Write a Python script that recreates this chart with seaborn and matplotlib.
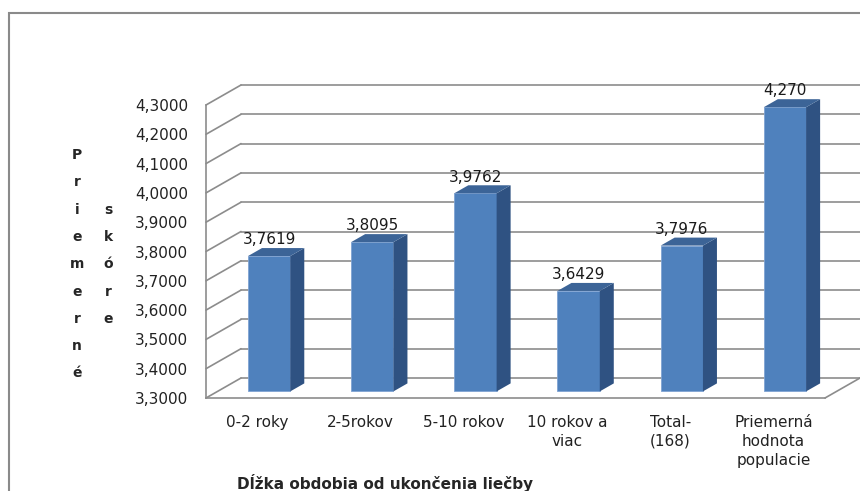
#!/usr/bin/env python3
import matplotlib
matplotlib.use('Agg')
import matplotlib.pyplot as plt
import matplotlib.patches as patches
import seaborn as sns

# data
categories = ['0-2 roky', '2-5rokov', '5-10 rokov', '10 rokov a\nviac',
              'Total-\n(168)', 'Priemerná\nhodnota\npopulacie']
values = [3.7619, 3.8095, 3.9762, 3.6429, 3.7976, 4.270]
value_labels = ['3,7619', '3,8095', '3,9762', '3,6429', '3,7976', '4,270']
yticks = [3.3, 3.4, 3.5, 3.6, 3.7, 3.8, 3.9, 4.0, 4.1, 4.2, 4.3]
ytick_labels = ['3,3000', '3,4000', '3,5000', '3,6000', '3,7000', '3,8000',
                '3,9000', '4,0000', '4,1000', '4,2000', '4,3000']
ylabel_col1 = list('Priemerné')
ylabel_col2 = list('skóre')
xlabel = 'Dĺžka obdobia od ukončenia liečby'

sns.set_style('white')
plt.rcParams['font.family'] = ['DejaVu Sans']

grid_col = '#8c8c8c'
front_col = '#4F81BD'
side_col = '#2F5282'
top_col = '#3C6497'

fig = plt.figure(figsize=(8.6, 4.91), dpi=100)
ax_w, ax_h = 619, 293
ax = fig.add_axes([206 / 860, 93 / 491, ax_w / 860, ax_h / 491])

sns.barplot(x=categories, y=values, color=front_col, saturation=1,
            width=0.41, ax=ax, zorder=3, edgecolor='#7fa3d3', linewidth=0.6)
ax.set_xlim(-0.5, 5.5)
ax.set_ylim(3.3, 4.3)

# depth of the fake 3d box in data units (35 px right, 20 px up)
ddx = 35 / (ax_w / 6)
ddy = 20 / ax_h
f0, f1 = 0.33, 0.73  # front / back of the bars inside the depth

# back wall + left wall grid
for v in yticks:
    ax.plot([-0.5 + ddx, 5.5 + ddx], [v + ddy, v + ddy], color=grid_col,
            lw=1.2, clip_on=False, zorder=1)
    ax.plot([-0.5, -0.5 + ddx], [v, v + ddy], color=grid_col,
            lw=1.2, clip_on=False, zorder=1)
ax.plot([5.5, 5.5 + ddx], [3.3, 3.3 + ddy], color=grid_col, lw=1.2,
        clip_on=False, zorder=1)

# turn the flat bars into boxes
for i, p in enumerate(ax.patches):
    x0 = p.get_x() + f0 * ddx
    w = p.get_width()
    y0 = 3.3 + f0 * ddy
    top = values[i] + f0 * ddy
    p.set_x(x0)
    p.set_y(y0)
    p.set_height(top - y0)
    p.set_clip_on(False)
    x1 = x0 + w
    d = f1 - f0
    ax.fill([x1, x1 + d * ddx, x1 + d * ddx, x1],
            [y0, y0 + d * ddy, top + d * ddy, top],
            color=side_col, clip_on=False, zorder=3, lw=0)
    ax.fill([x0, x1, x1 + d * ddx, x0 + d * ddx],
            [top, top, top + d * ddy, top + d * ddy],
            color=top_col, clip_on=False, zorder=3, lw=0)
    ax.annotate(value_labels[i], (x0 + w / 2, top + d * ddy),
                xytext=(0, 0.5), textcoords='offset points', ha='center',
                va='bottom', fontsize=11, color='#1a1a1a',
                annotation_clip=False)

# axes cosmetics
for s in ['top', 'right']:
    ax.spines[s].set_visible(False)
for s in ['left', 'bottom']:
    ax.spines[s].set_color(grid_col)
    ax.spines[s].set_linewidth(1.2)
ax.set_yticks(yticks)
ax.set_yticklabels(ytick_labels, fontsize=11, color='#222222')
ax.tick_params(axis='y', length=4, width=1.2, color=grid_col, pad=9)
ax.set_xticks(range(len(categories)))
ax.set_xticklabels(categories, fontsize=11, color='#222222', linespacing=1.35)
ax.set_xticks([i - 0.5 for i in range(len(categories) + 1)], minor=True)
ax.tick_params(axis='x', which='major', length=0, pad=12)
ax.tick_params(axis='x', which='minor', length=4, width=1.2, color=grid_col)
ax.set_xlabel('')
ax.set_ylabel('')

# stacked y label letters
for k, ch in enumerate(ylabel_col1):
    fig.text(77 / 860, 1 - (155 + k * 27.3) / 491, ch, ha='center',
             va='center', fontsize=10, fontweight='bold')
for k, ch in enumerate(ylabel_col2):
    fig.text(108 / 860, 1 - (155 + (k + 2) * 27.3) / 491, ch, ha='center',
             va='center', fontsize=10, fontweight='bold')

fig.text(237 / 860, 1 - 483 / 491, xlabel, ha='left', va='center',
         fontsize=11, fontweight='bold')

# outer frame of the chart area
fig.add_artist(patches.Rectangle((9 / 860, -0.1), 2, (491 - 13) / 491 + 0.1,
                                 transform=fig.transFigure, fill=False,
                                 edgecolor='#8a8a8a', lw=1.5))

plt.savefig('out.png', dpi=100)
